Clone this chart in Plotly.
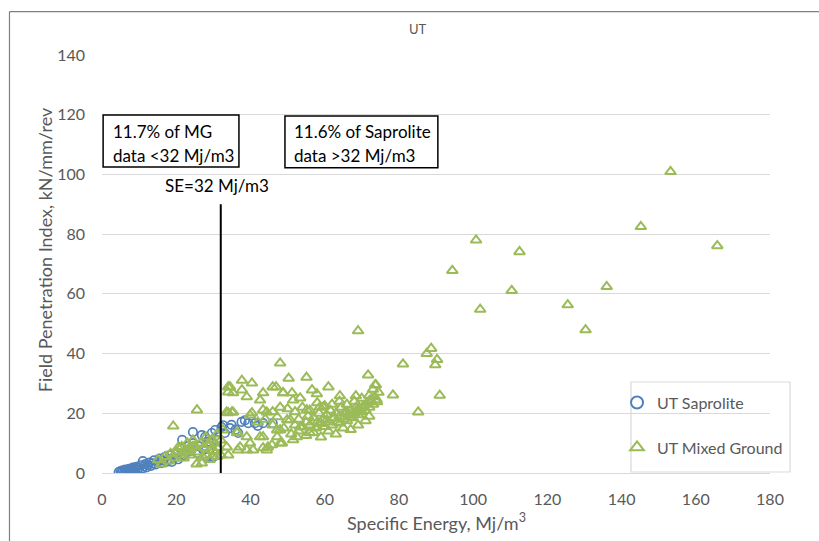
import plotly.graph_objects as go

# ---- data ----
sap_x = [4.5, 5, 5.3, 5.6, 6, 6.3, 6.6, 7, 7.3, 7.6, 8, 8.3, 8.6, 9, 9.3, 9.6, 10, 10.4, 10.8, 11,
         11.3, 11.7, 12, 12.4, 12.8, 13.2, 13.6, 14, 14.5, 15, 15.5, 16, 16.5, 17, 17.5, 18, 18.3, 18.8,
         19.5, 20, 20.5, 21, 21.6, 22, 22.9, 23.2, 24, 24.5, 24.6, 25.6, 26, 26.9, 27.3, 27.8, 28.2,
         28.8, 29.6, 30, 30.5, 31, 30.9, 32.2, 32.6, 33.1, 34.5, 34.9, 36, 36.7, 37.6, 38.5, 39.4,
         41.2, 42, 43.4, 46]
sap_y = [0.3, 0.6, 0.2, 0.9, 0.5, 1.1, 0.3, 0.8, 1.4, 0.6, 1.2, 1.8, 0.9, 1.5, 2.1, 1.2, 1.8, 2.6, 1.5, 4,
         2.2, 3, 1.9, 2.7, 3.5, 2.4, 3.2, 4.2, 2.9, 3.7, 4.8, 3.3, 4.2, 5.4, 3.8, 4.6, 6, 3.7,
         5.2, 6.5, 4.6, 8.4, 11.1, 6, 7, 9, 7.5, 13.7, 10, 6.7, 9, 12.7, 7.7, 12.1, 5.4,
         10.5, 13.4, 5.4, 14.4, 11, 8, 15.4, 16, 13.4, 15, 16.1, 14.5, 13.4, 17.1, 17.6, 16.7,
         16.7, 15.8, 16.7, 16.7]

mg_x = [15.1, 16, 17, 18, 18.5, 19.2, 19.5, 20, 20.2, 20.5, 21, 21.5, 22, 22.5, 22.9, 23, 23.5, 23.7, 24,
        24.5, 24.5, 25, 25.6, 25.5, 26, 26.5, 26.9, 27.2, 27.5, 28, 28, 28.5, 29, 29.1, 29.5, 30, 30.5,
        30.5, 31, 31, 31.5, 32, 32, 32.6, 33.6, 33.6, 34, 34, 34, 34, 34.5, 35, 35.3, 35.3, 36.4, 36.4,
        36.6, 37.2, 37.7, 37.7, 39, 39, 39, 39.9, 39.9, 40.4, 40.4, 40.7, 42.6, 42.6, 43.4, 43.4, 43.4,
        44.4, 44.4, 44.7, 46, 46.9, 47.2, 47.2, 47.2, 48, 48, 48.5, 48.8, 49.9, 50.3, 50.7, 51.5, 51.5,
        55.1, 56.6, 61,
        52, 53, 54, 55, 55.5, 56, 57, 57.5, 58, 58.5, 59, 59.5, 60, 60.5, 61, 61.5, 62, 62.5, 63, 63.5,
        64, 64.5, 65, 65.5, 66, 66.5, 67, 67.5, 68, 68.5, 69, 69.5, 70, 70.5, 71, 71.5, 72, 72.5, 73,
        73.5, 74, 74.5, 73, 72, 70, 68, 66, 64, 62, 60, 58, 56, 54, 52, 50, 48, 46, 44, 42, 46, 49, 51,
        53, 55, 57, 59, 61, 63, 65, 67, 69, 71, 72,
        48.8, 51.2, 53.4, 57.9, 59.6, 64.1, 66, 68.4, 68.7, 70.3, 72.2, 74.1, 52.5, 56, 53.4, 57.9, 60.6,
        64.1, 66.8, 55.2, 58.7, 45.8, 43.4,
        153.2, 145.2, 165.8, 100.8, 112.5, 94.4, 110.4, 101.9, 136, 125.5, 130.3, 69, 88.7, 87.5, 90.3,
        89.8, 81.1, 91, 85.2, 48, 78.4, 71.7, 73.8, 73.6]
mg_y = [4.4, 3, 5.5, 4, 6.5, 15.7, 5, 7, 7, 8.5, 6, 8.8, 5, 7.5, 7, 10, 8, 8.7, 6,
        11, 8.8, 9, 21.1, 3, 7, 10, 3.3, 5.4, 8.5, 12, 6, 9.5, 4.5, 9.4, 11, 7.5, 10,
        7, 5.5, 13, 8.5, 11, 6, 14.4, 20.4, 8.7, 28.8, 27.1, 20.1, 6, 28.8, 20.4, 26.8, 20.4, 13.7, 13.4,
        7.7, 8.7, 27.8, 31, 25.5, 12.1, 7.7, 19.4, 10, 30.1, 20.1, 7.7, 12.1, 24.4, 26.8, 12.1, 8.4,
        20.4, 7.7, 8.7, 28.8, 28.8, 18.8, 12.1, 14.4, 10, 14.4, 10, 26.8, 17.8, 31.7, 17.8, 24.4, 11.1,
        32, 27.8, 28.8,
        16, 18, 15.5, 17, 19, 16, 18.5, 15, 17, 20, 16.5, 18, 15.5, 19.5, 17, 21, 16, 18.5, 20, 17,
        19, 22, 18, 20.5, 17.5, 19.5, 21, 18.5, 20, 22, 19.5, 21.5, 20.5, 22.5, 21, 23.5, 22, 24, 23,
        25.5, 24.5, 27, 28, 26, 25, 24, 23, 24, 23, 22.5, 23.5, 21, 22, 20.5, 21.5, 22, 20.5, 18, 17, 16, 15, 13,
        14, 12.5, 13.5, 12, 14, 13, 15, 14.5, 16, 17.5, 19,
        26.8, 26.8, 25.1, 26.5, 22.1, 25.8, 20.4, 25.8, 21.1, 22.1, 24.4, 23.8, 12.1, 13.4, 15.4, 15.4, 17.8,
        16.7, 18.8, 21.1, 22.1, 9.4, 21.1,
        100.9, 82.5, 76.1, 78, 74.1, 67.8, 61.1, 54.8, 62.4, 56.3, 47.9, 47.6, 41.7, 40, 38,
        36.2, 36.5, 26, 20.4, 36.8, 26.1, 32.8, 29.5, 29.5]

x_ticks = [0, 20, 40, 60, 80, 100, 120, 140, 160, 180]
y_ticks = [0, 20, 40, 60, 80, 100, 120, 140]
se_cut = 32
box_mg_lines = ["11.7% of MG", "data <32 Mj/m3"]
box_sap_lines = ["11.6% of Saprolite", "data >32 Mj/m3"]
se_label = "SE=32 Mj/m3"
x_title = "Specific Energy, Mj/m<sup>3</sup>"
y_title = "Field Penetration Index, kN/mm/rev"

FONT = "Lato, Open Sans, sans-serif"
BLUE = "#4F81BD"
GREEN = "#9BBB59"
GREY = "#595959"

fig = go.Figure()
fig.add_trace(go.Scatter(
    x=sap_x, y=sap_y, mode="markers", name="UT Saprolite", legendgroup="a",
    marker=dict(symbol="circle-open", size=8.5, color=BLUE, line=dict(width=1.7, color=BLUE))))
fig.add_trace(go.Scatter(
    x=mg_x, y=mg_y, mode="markers", name="UT Mixed Ground", legendgroup="b",
    marker=dict(symbol="triangle-up-open", size=9.5, color=GREEN, line=dict(width=2, color=GREEN))))

fig.update_layout(
    width=819, height=541,
    margin=dict(l=102, r=49, t=55, b=68),
    paper_bgcolor="white", plot_bgcolor="white",
    font=dict(family=FONT, color=GREY),
    title=dict(text="UT", x=0.51, xanchor="center", y=0.945, yanchor="middle",
               font=dict(size=13, color=GREY, family=FONT)),
    showlegend=True,
    legend=dict(x=0.771, y=0.209, xanchor="left", yanchor="top",
                borderwidth=0, bgcolor="rgba(0,0,0,0)",
                font=dict(size=16, color=GREY, family=FONT),
                traceorder="grouped", tracegroupgap=21, itemsizing="constant"),
    xaxis=dict(range=[0, 180], tickvals=x_ticks, showgrid=False, zeroline=False,
               showline=True, linecolor="#D9D9D9", linewidth=1, ticks="",
               tickfont=dict(size=16, color=GREY), ticklabelstandoff=12),
    yaxis=dict(range=[0, 140], tickvals=y_ticks, showgrid=True, gridcolor="#D9D9D9", gridwidth=1,
               zeroline=False, showline=False, ticks="",
               tickfont=dict(size=16, color=GREY), ticklabelstandoff=16),
)

shapes = [
    dict(type="line", xref="x", yref="y", x0=se_cut, x1=se_cut, y0=0, y1=90,
         line=dict(color="black", width=2)),
    dict(type="rect", xref="x", yref="y", x0=0.3, x1=36.9, y0=102.5, y1=119.9,
         line=dict(color="black", width=1.5), fillcolor="white", layer="above"),
    dict(type="rect", xref="x", yref="y", x0=49.3, x1=90.5, y0=102.2, y1=119.6,
         line=dict(color="black", width=1.5), fillcolor="white", layer="above"),
    # legend frame
    dict(type="rect", xref="paper", yref="paper", x0=0.7919, x1=1.03, y0=0.0024, y1=0.2177,
         line=dict(color="#D9D9D9", width=1.2), fillcolor="rgba(0,0,0,0)", layer="above"),
    # outer chart frame
    dict(type="line", xref="paper", yref="paper", x0=-0.1385, x1=1.08, y0=1.104, y1=1.104,
         line=dict(color="#808080", width=1.2)),
    dict(type="line", xref="paper", yref="paper", x0=-0.1385, x1=-0.1385, y0=1.104, y1=-0.18,
         line=dict(color="#808080", width=1.2)),
]
fig.update_layout(shapes=shapes)

for t, yy in zip(box_mg_lines, [114.5, 106.5]):
    fig.add_annotation(x=2.4, y=yy, xref="x", yref="y", text=t, showarrow=False,
                       xanchor="left", yanchor="middle", align="left",
                       font=dict(size=17, color="black", family=FONT))
for t, yy in zip(box_sap_lines, [114.3, 106.4]):
    fig.add_annotation(x=51.3, y=yy, xref="x", yref="y", text=t, showarrow=False,
                       xanchor="left", yanchor="middle", align="left",
                       font=dict(size=17, color="black", family=FONT))
fig.add_annotation(x=31.1, y=96.2, xref="x", yref="y", text=se_label, showarrow=False,
                   xanchor="center", yanchor="middle",
                   font=dict(size=17, color="black", family=FONT))

# axis titles
fig.add_annotation(x=0.5, y=-0.118, xref="paper", yref="paper", text=x_title, showarrow=False,
                   xanchor="center", yanchor="middle", font=dict(size=18, color=GREY, family=FONT))
fig.add_annotation(x=-0.0853, y=0.533, xref="paper", yref="paper", text=y_title, showarrow=False,
                   textangle=-90, xanchor="center", yanchor="middle",
                   font=dict(size=18, color=GREY, family=FONT))

fig.write_html("out.html")
